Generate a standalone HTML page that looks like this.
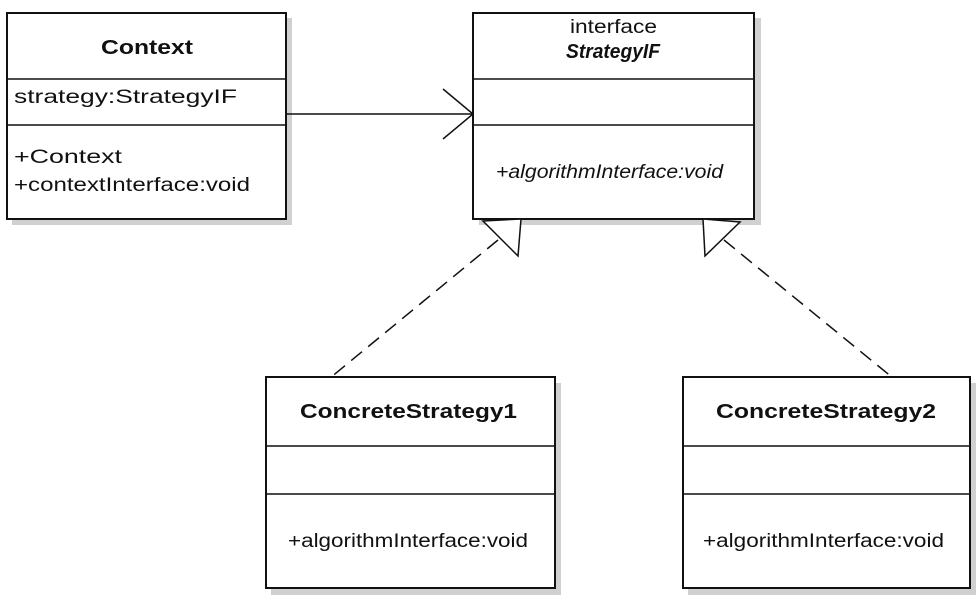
<!DOCTYPE html>
<html><head><style>
body{margin:0;background:#fff;width:978px;height:604px;overflow:hidden;font-family:"Liberation Sans",sans-serif;color:#111}
</style></head><body>
<svg width="978" height="604" xmlns="http://www.w3.org/2000/svg" style="position:absolute;left:0;top:0">
<g fill="#d0d0d0">
<rect x="12" y="18" width="280" height="207"/>
<rect x="479" y="18" width="282" height="207"/>
<rect x="271" y="383" width="290" height="212"/>
<rect x="688" y="383" width="288" height="212"/>
</g>
<g fill="#fff" stroke="#111" stroke-width="2">
<rect x="7" y="13" width="279" height="206"/>
<rect x="473" y="13" width="281" height="206"/>
<rect x="266" y="377" width="289" height="211"/>
<rect x="683" y="377" width="287" height="211"/>
</g>
<g stroke="#111" stroke-width="1.5">
<line x1="7" y1="79" x2="286" y2="79"/><line x1="7" y1="125" x2="286" y2="125"/>
<line x1="473" y1="79" x2="754" y2="79"/><line x1="473" y1="125" x2="754" y2="125"/>
<line x1="266" y1="446" x2="555" y2="446"/><line x1="266" y1="494" x2="555" y2="494"/>
<line x1="683" y1="446" x2="970" y2="446"/><line x1="683" y1="494" x2="970" y2="494"/>
</g>
<g stroke="#111" stroke-width="1.5" fill="none">
<line x1="286" y1="114" x2="473" y2="114"/>
<polyline points="443,89 473,114 443,139"/>
<line x1="498" y1="240" x2="330" y2="378" stroke-dasharray="14,8"/>
<line x1="724" y1="240" x2="893" y2="378" stroke-dasharray="14,8"/>
<polygon points="483,221 521,219 518,256" fill="#fff"/>
<polygon points="703,219 740,222 705,256" fill="#fff"/>
</g>
<g font-family="Liberation Sans, sans-serif" fill="#111" font-size="19" lengthAdjust="spacingAndGlyphs">
<text x="101" y="54" font-size="20" font-weight="bold" textLength="92" lengthAdjust="spacingAndGlyphs">Context</text>
<text x="14" y="103" textLength="223" lengthAdjust="spacingAndGlyphs">strategy:StrategyIF</text>
<text x="14" y="163" textLength="108" lengthAdjust="spacingAndGlyphs">+Context</text>
<text x="14" y="191" textLength="236" lengthAdjust="spacingAndGlyphs">+contextInterface:void</text>
<text x="570" y="33" textLength="87" lengthAdjust="spacingAndGlyphs">interface</text>
<text x="566" y="58" font-size="20" font-weight="bold" font-style="italic" textLength="94" lengthAdjust="spacingAndGlyphs">StrategyIF</text>
<text x="496" y="178" font-style="italic" textLength="227" lengthAdjust="spacingAndGlyphs">+algorithmInterface:void</text>
<text x="300" y="418" font-size="20" font-weight="bold" textLength="217" lengthAdjust="spacingAndGlyphs">ConcreteStrategy1</text>
<text x="288" y="547" textLength="240" lengthAdjust="spacingAndGlyphs">+algorithmInterface:void</text>
<text x="716" y="418" font-size="20" font-weight="bold" textLength="220" lengthAdjust="spacingAndGlyphs">ConcreteStrategy2</text>
<text x="703" y="547" textLength="241" lengthAdjust="spacingAndGlyphs">+algorithmInterface:void</text>
</g>
</svg>
</body></html>
